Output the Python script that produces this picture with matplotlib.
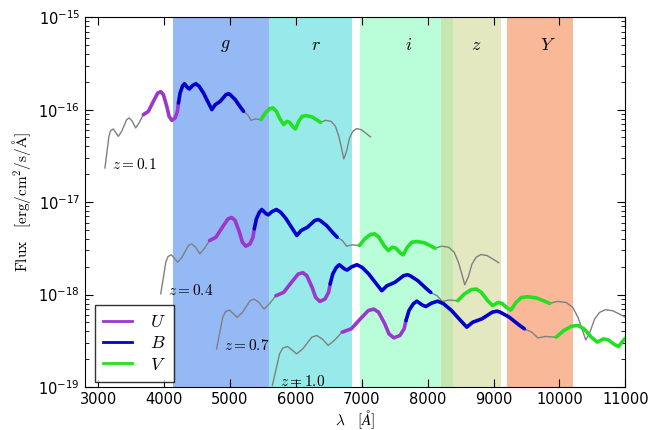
import numpy as np
import matplotlib
matplotlib.use("Agg")
import matplotlib.pyplot as plt

plt.rcParams['mathtext.fontset'] = 'cm'
plt.rcParams['font.family'] = 'DejaVu Sans'

rest_wave = [2822, 2854, 2877, 2901, 2937, 2970, 3006, 3053, 3122, 3158,
             3200, 3246, 3292, 3352, 3421, 3490, 3551, 3592, 3628, 3675,
             3707, 3744, 3790, 3822, 3836, 3859, 3891, 3918, 3965, 3988,
             4029, 4076, 4122, 4181, 4250, 4297, 4343, 4412, 4491, 4527,
             4550, 4619, 4689, 4734, 4790, 4837, 4896, 4975, 5034, 5094,
             5141, 5186, 5242, 5287, 5334, 5370, 5417, 5449, 5495, 5542,
             5601, 5680, 5739, 5795, 5864, 5943, 6002, 6048, 6085, 6117,
             6154, 6196, 6241, 6292, 6357, 6417, 6486]
rest_flux = [0.234, 0.369, 0.514, 0.593, 0.618, 0.568, 0.514, 0.583, 0.780, 0.813,
             0.747, 0.634, 0.718, 0.883, 0.959, 1.229, 1.515, 1.565, 1.453, 1.086,
             0.846, 0.766, 0.813, 0.959, 1.181, 1.515, 1.786, 1.910, 1.716, 1.674,
             1.817, 1.910, 1.786, 1.515, 1.181, 1.000, 1.132, 1.229, 1.453, 1.489,
             1.453, 1.283, 1.069, 0.959, 0.883, 0.766, 0.793, 0.780, 0.921, 1.025,
             1.043, 0.959, 0.780, 0.689, 0.747, 0.729, 0.650, 0.618, 0.747, 0.846,
             0.861, 0.834, 0.780, 0.729, 0.766, 0.747, 0.660, 0.514, 0.385, 0.293,
             0.354, 0.494, 0.583, 0.623, 0.608, 0.560, 0.507]

redshifts = [0.1, 0.4, 0.7, 1.0]
z_labels = ['0.1', '0.4', '0.7', '1.0']
flux_scale = [1.0e-16, 4.35e-18, 1.10e-18, 4.44e-19]

# rest-frame Johnson bands
band_names = ['U', 'B', 'V']
band_lo = [3352, 3836, 4975]
band_hi = [3836, 4734, 5795]
band_colors = ['#9b38cc', '#0000cc', '#22e022']

# observed filters
filt_names = ['g', 'r', 'i', 'z', 'Y']
filt_lo = [4140, 5600, 6970, 8210, 9200]
filt_hi = [5600, 6860, 8380, 9120, 10200]
filt_colors = ['#94b9f4', '#98eaea', '#bafdd9', '#d2d894', '#f9b898']
filt_alpha = [1.0, 1.0, 1.0, 0.58, 1.0]
filt_label_x = [4930, 6310, 7710, 8740, 9820]

fig = plt.figure(figsize=(6.48, 4.30), dpi=100)
ax = fig.add_axes([0.131, 0.1, 0.834, 0.86])

for lo, hi, c, a in zip(filt_lo, filt_hi, filt_colors, filt_alpha):
    ax.axvspan(lo, hi, color=c, alpha=a, lw=0, zorder=0)
for name, x in zip(filt_names, filt_label_x):
    ax.text(x, 5.0e-16, '$%s$' % name, ha='center', va='center', fontsize=13)

rw = np.array(rest_wave)
rf = np.array(rest_flux)
for z, zl, s in zip(redshifts, z_labels, flux_scale):
    wl = rw * (1 + z)
    fl = rf * s
    ax.plot(wl, fl, color='gray', lw=1.0, zorder=2)
    for lo, hi, c in zip(band_lo, band_hi, band_colors):
        m = (rw >= lo) & (rw <= hi)
        ax.plot(wl[m], fl[m], color=c, lw=2.6, solid_capstyle='round',
                solid_joinstyle='round', zorder=3)
    ax.text(wl[0] + 110, fl[0] * 1.1, '$z=%s$' % zl,
            ha='left', va='center', fontsize=11, zorder=4)

for name, c in zip(band_names, band_colors):
    ax.plot([], [], color=c, lw=2.0, label='$%s$' % name)
leg = ax.legend(loc='lower left', bbox_to_anchor=(0.019, 0.014), borderaxespad=0,
                fontsize=13, frameon=True, fancybox=False, handlelength=1.6,
                handletextpad=1.0, labelspacing=0.18, borderpad=0.45)
leg.get_frame().set_edgecolor('black')
leg.get_frame().set_linewidth(1.0)

ax.set_yscale('log')
ax.set_xlim(2800, 11000)
ax.set_ylim(1e-19, 1e-15)
ax.set_xticks(range(3000, 11001, 1000))
ax.tick_params(which='both', direction='in', top=True, right=True, labelsize=10.5)
ax.tick_params(which='major', length=6)
ax.tick_params(which='minor', length=3)
ax.set_xlabel(r'$\lambda\quad[\AA]$', fontsize=11, labelpad=1)
ax.set_ylabel(r'$\mathrm{Flux}\quad[\mathrm{erg/cm^2/s/\AA}]$', fontsize=11)

fig.savefig('out.png', dpi=100)
